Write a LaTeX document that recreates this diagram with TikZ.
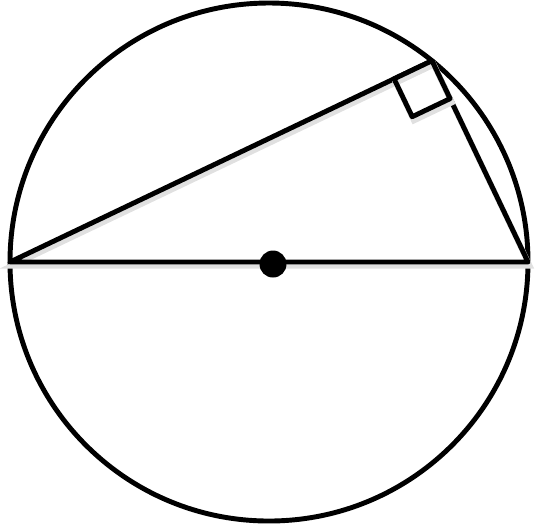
\documentclass[tikz,border=0pt]{standalone}
\usepackage{tikz}
\usepackage{tkz-euclide}
\tikzset{
  stroke/.style={draw=black, line width=1.4pt, line join=round},
  shadowed/.style={preaction={draw=black!12, line width=1.6pt,
      transform canvas={shift={(0.5pt,-1.1pt)}}}}
}

\begin{document}
\begin{tikzpicture}
  \useasboundingbox (-2.69,-2.62) rectangle (2.68,2.62);
  % 1. Points: centre, ends of the diameter, vertex on the circle
  \tkzDefPoint(0,0){O}
  \tkzDefPoint(-2.59,0){A}
  \tkzDefPoint(2.59,0){B}
  \tkzDefPoint(51:2.59){C}
  \tkzDefPoint(0.04,-0.02){D}

  % 2. The circle
  \tkzDrawCircle[stroke](O,A)

  % 3. Triangle on the diameter
  \tkzDrawPolygon[stroke, shadowed](A,B,C)
  \tkzMarkRightAngle[stroke, shadowed, size=0.42](A,C,B)

  % 4. Centre dot
  \fill (D) circle (0.135);
\end{tikzpicture}
\end{document}
